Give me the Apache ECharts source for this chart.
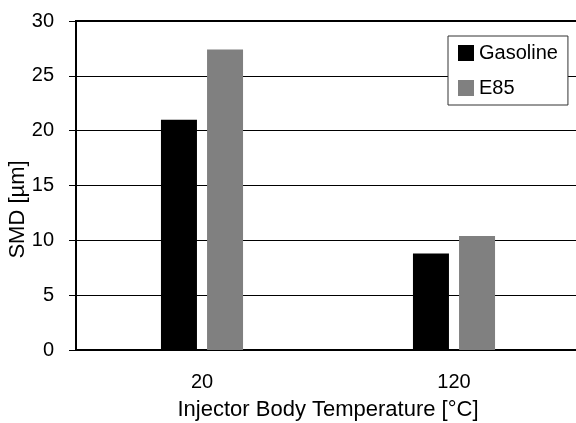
<!DOCTYPE html>
<html>
<head>
<meta charset="utf-8">
<script src="https://cdn.jsdelivr.net/npm/echarts@6/dist/echarts.min.js"></script>
<style>
    html, body { margin: 0; padding: 0; background: #fff; }
    #chart { width: 576px; height: 423px; }
</style>
</head>
<body>
<div id="chart"></div>
<script>
// values
const temperatures = ['20', '120'];
const gasolineSmd = [21.0, 8.8];
const e85Smd = [27.4, 10.4];
const yTicks = [0, 5, 10, 15, 20, 25, 30];

const font = 'Liberation Sans, Arial, sans-serif';

function getBarChartOption() {
    const option = {
        animation: false,
        textStyle: { fontFamily: font },
        grid: {
            left: 76,
            top: 21,
            width: 504,
            height: 329,
            outerBoundsMode: 'none',
            containLabel: false,
            show: true,
            borderColor: '#000',
            borderWidth: 2,
            backgroundColor: '#fff',
        },
        legend: {
            orient: 'vertical',
            left: 448,
            top: 36,
            padding: [7, 10, 7, 10],
            itemWidth: 16,
            itemHeight: 16,
            itemGap: 15,
            backgroundColor: '#fff',
            borderColor: '#333',
            borderWidth: 1,
            icon: 'rect',
            textStyle: { fontFamily: font, fontSize: 20, color: '#000' },
            data: ['Gasoline', 'E85'],
        },
        xAxis: {
            type: 'category',
            data: temperatures,
            name: 'Injector Body Temperature [°C]',
            nameLocation: 'middle',
            nameGap: 49,
            nameMoveOverlap: false,
            nameTextStyle: { fontFamily: font, fontSize: 22, color: '#000' },
            axisLine: { lineStyle: { color: '#000', width: 2 } },
            axisTick: { length: 6, lineStyle: { color: '#000', width: 1 } },
            axisLabel: { margin: 22, fontFamily: font, fontSize: 20, color: '#000' },
        },
        yAxis: {
            type: 'value',
            min: yTicks[0],
            max: yTicks[yTicks.length - 1],
            interval: 5,
            name: 'SMD [µm]',
            nameLocation: 'middle',
            nameGap: 47,
            nameMoveOverlap: false,
            nameTextStyle: { fontFamily: font, fontSize: 22, color: '#000', padding: [0, 48, 0, 0] },
            axisLine: { show: true, lineStyle: { color: '#000', width: 2 } },
            axisTick: { show: true, length: 7, lineStyle: { color: '#000', width: 1 } },
            axisLabel: { margin: 22, fontFamily: font, fontSize: 20, color: '#000' },
            splitLine: { lineStyle: { color: '#000', width: 1 } },
        },
        series: [
            {
                name: 'Gasoline',
                type: 'bar',
                data: gasolineSmd,
                barWidth: 36,
                barGap: '28%',
                itemStyle: { color: '#000' },
            },
            {
                name: 'E85',
                type: 'bar',
                data: e85Smd,
                barWidth: 36,
                itemStyle: { color: '#808080' },
            },
        ],
    };

    return option;
}

const barChart = echarts.init(document.getElementById('chart'));
barChart.setOption(getBarChartOption());
</script>
</body>
</html>
